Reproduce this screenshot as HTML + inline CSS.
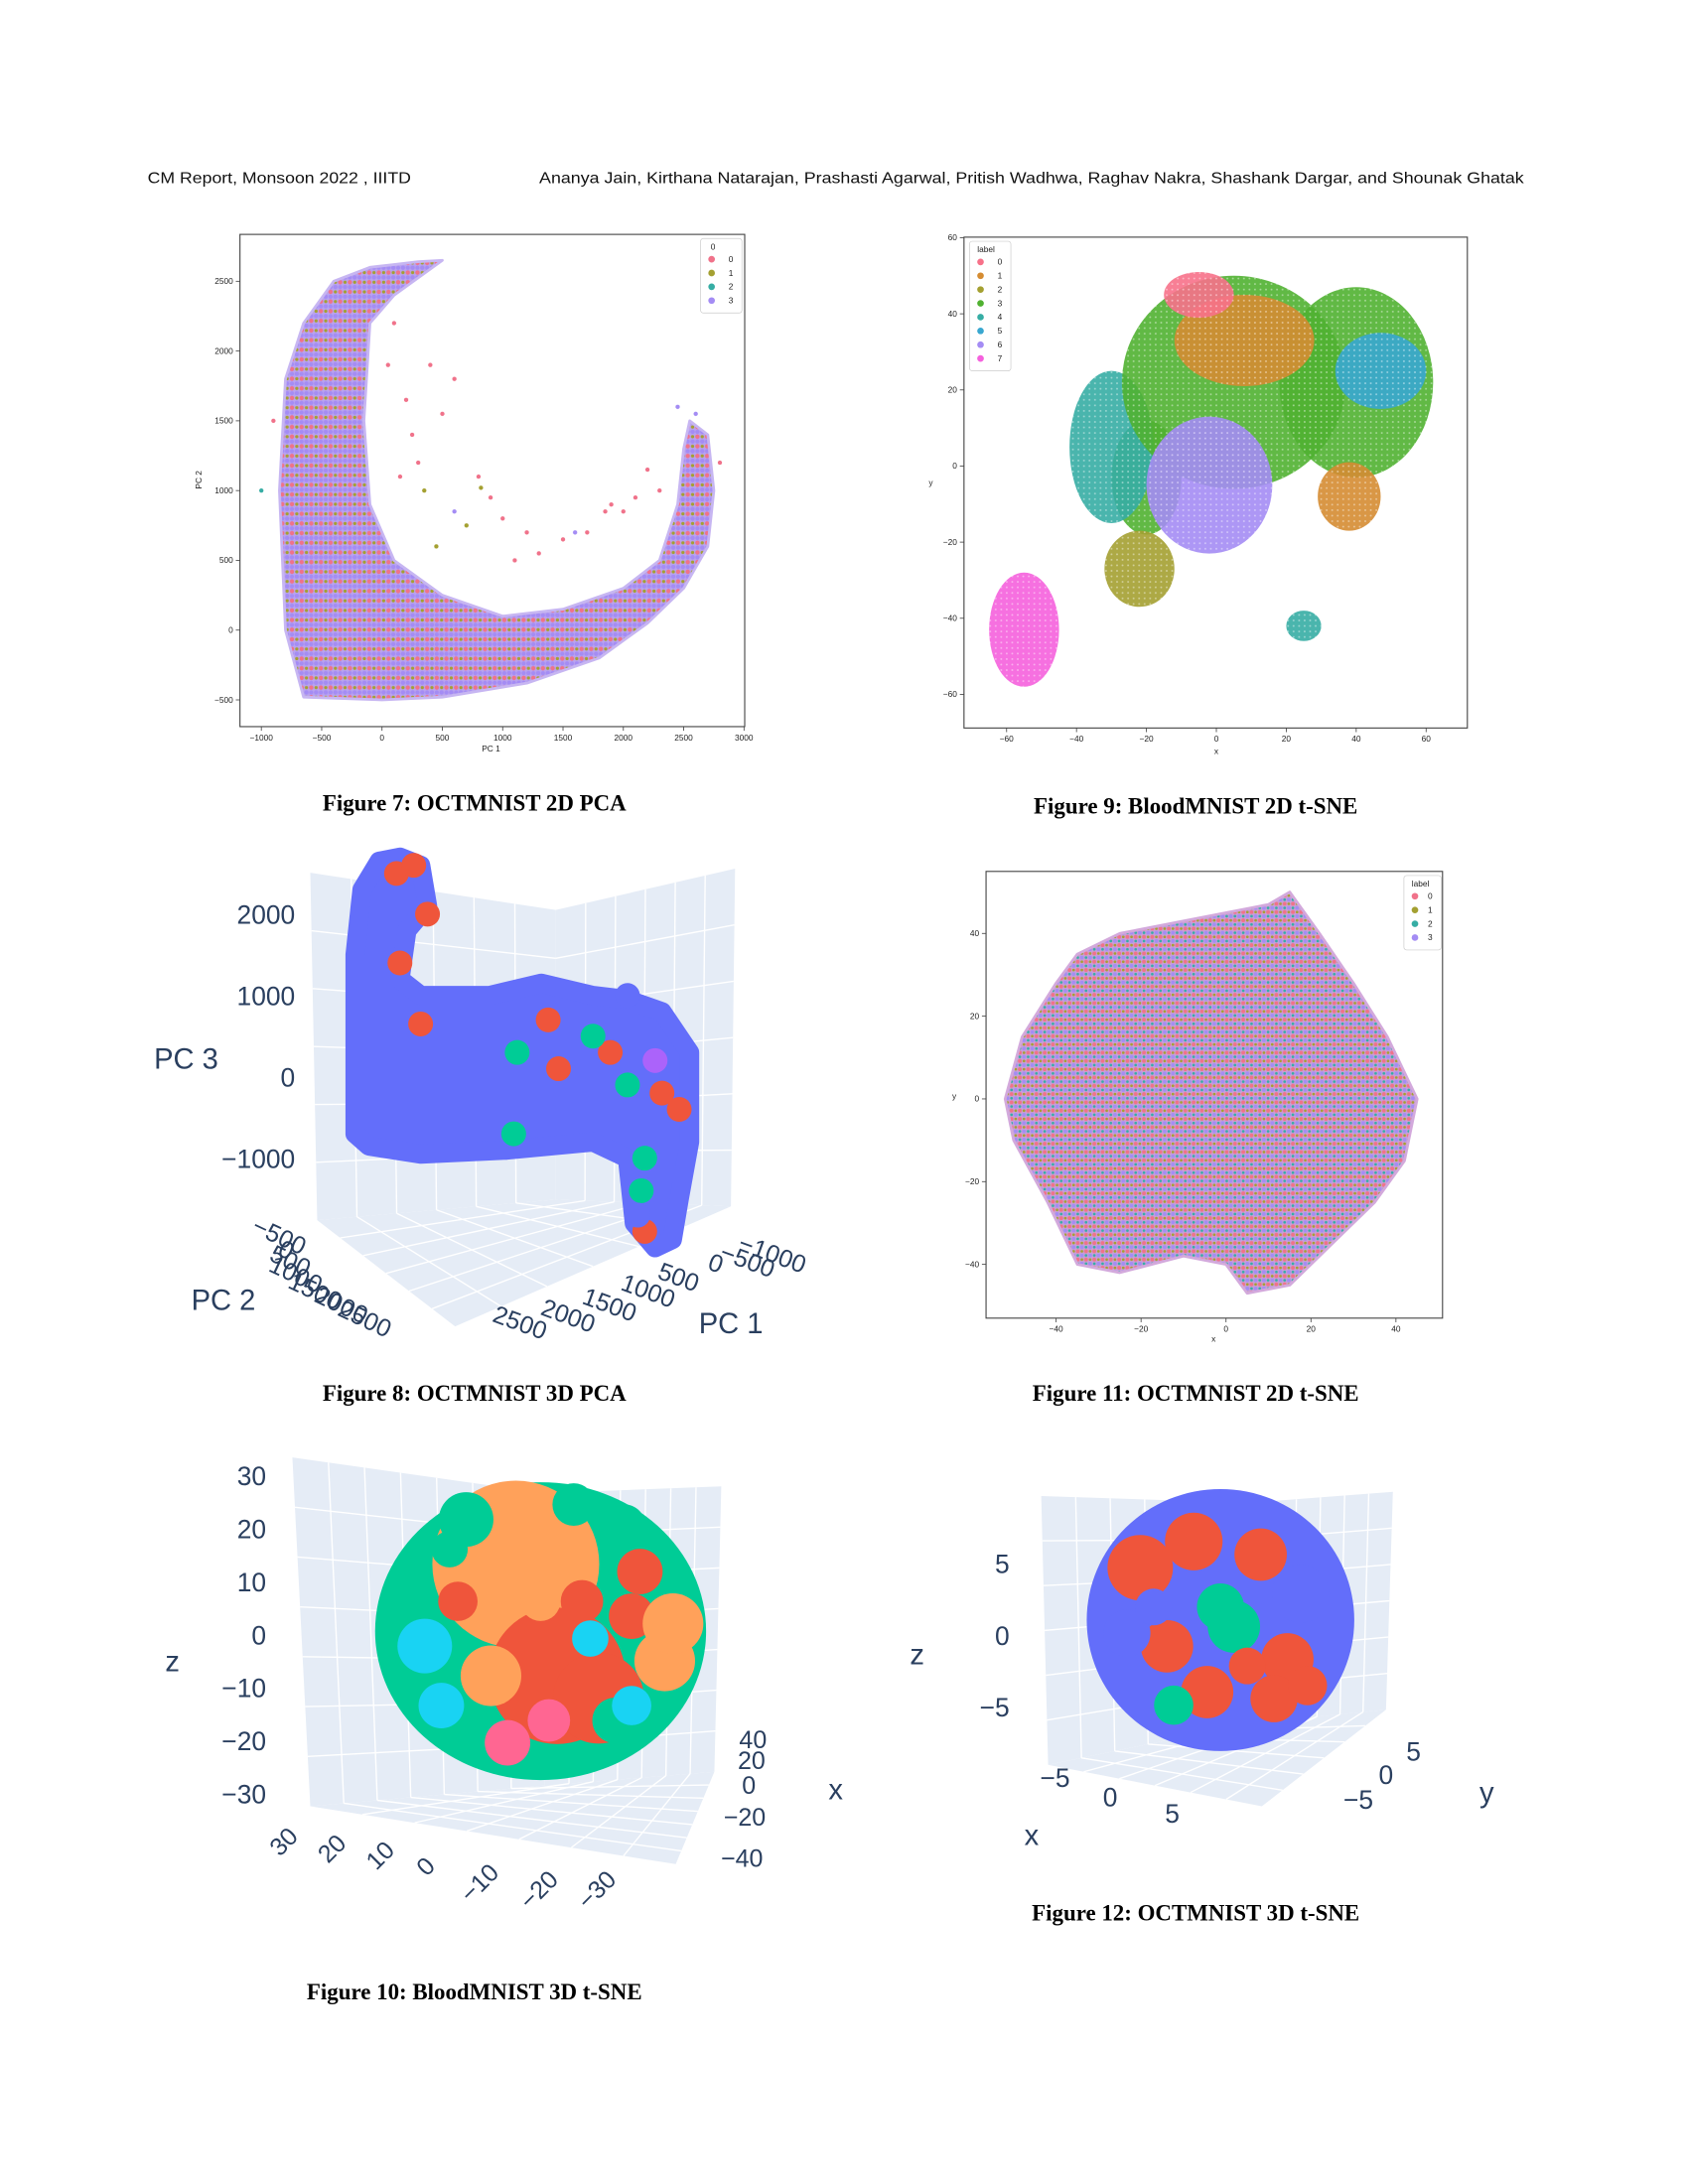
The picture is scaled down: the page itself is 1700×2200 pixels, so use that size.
<!DOCTYPE html>
<html><head><meta charset="utf-8"><style>
html,body{margin:0;padding:0;background:#fff;}
#page{position:relative;width:1700px;height:2200px;overflow:hidden;}
svg{position:absolute;left:0;top:0;}
</style></head><body>
<div id="page">
<svg id="s" width="1700" height="2200" viewBox="0 0 1700 2200" xmlns="http://www.w3.org/2000/svg">
<defs>
<pattern id="p7" width="7" height="7" patternUnits="userSpaceOnUse">
<rect width="7" height="7" fill="#b9a3ef"/><circle cx="1.7" cy="1.7" r="1.6" fill="#f0728a"/><circle cx="5.2" cy="5.2" r="1.6" fill="#a48cf4"/><circle cx="5.2" cy="1.7" r="1.2" fill="#a4a031"/><circle cx="1.7" cy="5.2" r="1.5" fill="#a48cf4"/></pattern>
<pattern id="p11" width="6" height="6" patternUnits="userSpaceOnUse">
<rect width="6" height="6" fill="#c9a0d8"/><circle cx="1.5" cy="1.5" r="1.4" fill="#f0728a"/><circle cx="4.5" cy="4.5" r="1.4" fill="#a48cf4"/><circle cx="4.5" cy="1.5" r="1" fill="#a4a031"/><circle cx="1.5" cy="4.5" r="1" fill="#36ada4"/></pattern>
<pattern id="tex" width="4" height="4" patternUnits="userSpaceOnUse"><circle cx="2" cy="2" r="0.7" fill="#ffffff" fill-opacity="0.45"/></pattern>
</defs>
<g id="root" transform="scale(1.3889)"></g>
</svg>
</div>
<script>
// ---------- Figure 7 data (OCTMNIST 2D PCA) ----------
const f7BandX=[-650,-800,-850,-800,-650,-400,-100,100,300,500,100,-100,-150,-100,100,500,1000,1500,2000,2300,2450,2500,2550,2700,2750,2700,2500,2200,1800,1200,500,0];
const f7BandY=[-480,0,1000,1800,2200,2500,2600,2620,2640,2650,2400,2200,1500,900,500,250,100,150,300,500,900,1300,1500,1400,1000,600,300,50,-200,-380,-480,-500];
const f7PtX=[600,500,800,900,1200,1500,1700,1900,2100,300,400,200,700,1000,1300,1600,2200,2300,250,100,50,600,-1000,-900,2800,2450,2600,1850,2000,350,450,150,820,1100];
const f7PtY=[1800,1550,1100,950,700,650,700,900,950,1200,1900,1650,750,800,550,700,1150,1000,1400,2200,1900,850,1000,1500,1200,1600,1550,850,850,1000,600,1100,1020,500];
const f7PtL=[0,0,0,0,0,0,0,0,0,0,0,0,1,0,0,3,0,0,0,0,0,3,2,0,0,3,3,0,0,1,1,0,1,0];
const f7XTicks=[-1000,-500,0,500,1000,1500,2000,2500,3000];
const f7YTicks=[-500,0,500,1000,1500,2000,2500];
const f7Labels=["0","1","2","3"];
// ---------- Figure 9 data (BloodMNIST 2D t-SNE) ----------
const f9Label=[3,4,3,3,5,1,0,6,1,2,7,4];
const f9Cx=[-20,-30,5,40,47,8,-5,-2,38,-22,-55,25];
const f9Cy=[-3,5,22,22,25,33,45,-5,-8,-27,-43,-42];
const f9Rx=[10,12,32,22,13,20,10,18,9,10,10,5];
const f9Ry=[15,20,28,25,10,12,6,18,9,10,15,4];
const f9XTicks=[-60,-40,-20,0,20,40,60];
const f9YTicks=[-60,-40,-20,0,20,40,60];
const f9Labels=["0","1","2","3","4","5","6","7"];
// ---------- Figure 11 data (OCTMNIST 2D t-SNE) ----------
const f11X=[-52,-48,-40,-35,-25,-10,10,15,22,30,38,45,42,35,25,15,5,0,-10,-25,-35,-42,-50];
const f11Y=[0,15,28,35,40,43,47,50,40,28,15,0,-15,-25,-35,-45,-47,-40,-38,-42,-40,-25,-10];
const f11XTicks=[-40,-20,0,20,40];
const f11YTicks=[-40,-20,0,20,40];
const f11Labels=["0","1","2","3"];
// ---------- Figure 8 data (OCTMNIST 3D PCA) ----------
const f8BlobU=[1,1,3,8,14,20,22,16,14,20,40,55,70,80,90,98,98,95,93,88,82,80,70,45,20,5];
const f8BlobZ=[-700,1500,2300,2650,2700,2600,2100,1800,1200,1000,1000,1150,1000,950,800,300,-800,-1500,-2000,-2100,-1800,-1000,-800,-900,-950,-850];
const f8MarkU=[22,13,18,14,20,57,75,90,85,95,60,48,70,47,80,85,84,80,83,88];
const f8MarkZ=[2000,2500,2600,1400,650,700,300,-200,-1900,-400,100,300,500,-700,-100,-1000,-1400,1000,-1700,200];
const f8MarkL=[1,1,1,1,1,1,1,1,1,1,1,2,2,2,2,2,2,0,0,3];
const f8ZTicks=[2000,1000,0,-1000];
// ---------- Figure 10 data (BloodMNIST 3D t-SNE) ----------
const f10A=[-0.15,0.1,0.35,-0.7,0.75,-0.45,0.5,-0.6,0.45,-0.2,0.55,-0.5,0.25,0.8,0.05,0.0,-0.3,0.55,0.3,-0.55,0.2,0.6];
const f10B=[-0.45,0.3,0.45,0.1,0.2,-0.75,-0.7,0.5,0.6,0.75,-0.1,-0.2,-0.2,-0.05,0.6,-0.2,0.3,0.5,0.05,-0.55,-0.85,-0.4];
const f10R=[0.55,0.45,0.3,0.18,0.2,0.18,0.15,0.15,0.15,0.15,0.15,0.13,0.14,0.2,0.14,0.13,0.2,0.13,0.12,0.12,0.14,0.15];
const f10L=[1,0,0,4,1,2,2,4,2,5,0,0,0,1,5,1,1,4,4,2,2,0];
const f10ZTicks=[30,20,10,0,-10,-20,-30];
// ---------- Figure 12 data (OCTMNIST 3D t-SNE) ----------
const f12A=[-0.6,-0.2,0.3,0.6,-0.4,0.1,0.5,-0.7,-0.1,0.4,-0.35,0.0,0.65,-0.5,0.2];
const f12B=[-0.4,-0.6,-0.5,-0.2,0.2,0.05,0.3,0.1,0.55,0.6,0.65,-0.1,0.5,-0.1,0.35];
const f12R=[0.25,0.22,0.2,0.22,0.2,0.2,0.2,0.18,0.2,0.18,0.15,0.18,0.15,0.14,0.14];
const f12L=[1,1,1,0,1,2,1,0,1,1,2,2,1,0,1];
const f12ZTicks=[5,0,-5];

const NS="http://www.w3.org/2000/svg";
const root=document.getElementById('root');
function mk(tag,attrs,parent,name,inter){const e=document.createElementNS(NS,tag);for(const k in attrs)e.setAttribute(k,attrs[k]);(parent||root).appendChild(e);


return e;}
function txt(x,y,s,size,parent,name,opts){opts=opts||{};const t=mk('text',Object.assign({x:x,y:y,'font-size':size,'font-family':opts.ff||'"Liberation Sans", sans-serif',fill:opts.fill||'#222','text-anchor':opts.anchor||'middle'},opts.extra||{}),parent,name,false);t.textContent=s;return t;}
const SNS=['#f77189','#d58c32','#a4a031','#50b131','#36ada4','#39a7d0','#a48cf4','#f561dd'];
const C4=['#f0728a','#a4a031','#36ada4','#a48cf4'];
const PLY=['#636efa','#ef553b','#00cc96','#ab63fa','#19d3f3','#ff6692','#ffa15a'];

// header
txt(107,133,'CM Report, Monsoon 2022 , IIITD',11.5,root,'header-left',{anchor:'start',fill:'#111',extra:{textLength:191,lengthAdjust:'spacingAndGlyphs'}});
txt(391,133,'Ananya Jain, Kirthana Natarajan, Prashasti Agarwal, Pritish Wadhwa, Raghav Nakra, Shashank Dargar, and Shounak Ghatak',11.5,root,'header-authors',{anchor:'start',fill:'#111',extra:{textLength:714,lengthAdjust:'spacingAndGlyphs'}});

function caption(cx,y,s,name){txt(cx,y,s,16.5,root,name,{ff:'"Liberation Serif", serif',fill:'#000',extra:{'font-weight':'bold'}});}

function axesBox(g,x0,y0,x1,y1,name){mk('rect',{x:x0,y:y0,width:x1-x0,height:y1-y0,fill:'#fff',stroke:'#444','stroke-width':0.8},g,name,false);}
function legend(g,x,y,w,title,labels,colors,name){const lg=mk('g',{},g,name,false);const h=14+labels.length*10;
mk('rect',{x:x,y:y,width:w,height:h,fill:'#fff',stroke:'#ccc','stroke-width':0.5,rx:2},lg,'legend-box',false);
txt(x+(title==='0'?9:12),y+8,title,6,lg,'legend-title',{anchor:'middle'});
labels.forEach((l,i)=>{const gy=y+17+i*10;mk('circle',{cx:x+8,cy:gy-2,r:2.4,fill:colors[i]},lg,'legend-marker-'+l,false);txt(x+w-8,gy,l,6,lg,'legend-label-'+l,{anchor:'middle'});});}

// ===== Figure 7 =====
(function(){const g=mk('g',{},root,'figure-7-pca-2d',false);
const X=v=>277+v*0.0875, Y=v=>457-v*0.1012;
axesBox(g,174,170,540,527,'plot-area');
mk('polygon',{points:f7BandX.map((v,i)=>X(v)+','+Y(f7BandY[i])).join(' '),fill:'url(#p7)',stroke:'#c7b6f2','stroke-width':2,'stroke-linejoin':'round'},g,'point-cloud-band',false);
f7PtX.forEach((v,i)=>{mk('circle',{cx:X(v),cy:Y(f7PtY[i]),r:1.7,fill:C4[f7PtL[i]],stroke:'#fff','stroke-width':0.3},g,'scatter-point',false);});
f7XTicks.forEach(t=>{mk('line',{x1:X(t),x2:X(t),y1:527,y2:530,stroke:'#444','stroke-width':0.6},g,'x-tick',false);txt(X(t),537,t<0?'\u2212'+(-t):String(t),6,g,'x-tick-label');});
f7YTicks.forEach(t=>{mk('line',{x1:171,x2:174,y1:Y(t),y2:Y(t),stroke:'#444','stroke-width':0.6},g,'y-tick',false);txt(169,Y(t)+2,t<0?'\u2212'+(-t):String(t),6,g,'y-tick-label',{anchor:'end'});});
txt(356,545,'PC 1',6,g,'x-axis-title');
txt(146,348,'PC 2',6,g,'y-axis-title',{extra:{transform:'rotate(-90 146 348)'}});
legend(g,508,173,30,'0',f7Labels,C4,'legend');
})();
caption(344,588,'Figure 7: OCTMNIST 2D PCA','figure-7-caption');

// ===== Figure 9 =====
(function(){const g=mk('g',{},root,'figure-9-tsne-2d',false);
const X=v=>882+v*2.535, Y=v=>338-v*2.76;
axesBox(g,699,172,1064,528,'plot-area');
f9Cx.forEach((cx,i)=>{const c=SNS[f9Label[i]];
mk('ellipse',{cx:X(cx),cy:Y(f9Cy[i]),rx:f9Rx[i]*2.535,ry:f9Ry[i]*2.76,fill:c,'fill-opacity':0.9},g,'cluster-'+f9Label[i],false);
mk('ellipse',{cx:X(cx),cy:Y(f9Cy[i]),rx:f9Rx[i]*2.535,ry:f9Ry[i]*2.76,fill:'url(#tex)'},g,'cluster-texture',false);});
f9XTicks.forEach(t=>{mk('line',{x1:X(t),x2:X(t),y1:528,y2:531,stroke:'#444','stroke-width':0.6},g,'x-tick',false);txt(X(t),538,t<0?'\u2212'+(-t):String(t),6,g,'x-tick-label');});
f9YTicks.forEach(t=>{mk('line',{x1:696,x2:699,y1:Y(t),y2:Y(t),stroke:'#444','stroke-width':0.6},g,'y-tick',false);txt(694,Y(t)+2,t<0?'\u2212'+(-t):String(t),6,g,'y-tick-label',{anchor:'end'});});
txt(882,547,'x',6,g,'x-axis-title');txt(675,352,'y',6,g,'y-axis-title');
legend(g,703,175,30,'label',f9Labels,SNS,'legend');
})();
caption(867,590,'Figure 9: BloodMNIST 2D t-SNE','figure-9-caption');

// ===== Figure 11 =====
(function(){const g=mk('g',{},root,'figure-11-tsne-2d',false);
const X=v=>889+v*3.08, Y=v=>797-v*3.0;
axesBox(g,715,632,1046,956,'plot-area');
mk('polygon',{points:f11X.map((v,i)=>X(v)+','+Y(f11Y[i])).join(' '),fill:'url(#p11)',stroke:'#d3a9dc','stroke-width':2,'stroke-linejoin':'round'},g,'point-cloud',false);
f11XTicks.forEach(t=>{mk('line',{x1:X(t),x2:X(t),y1:956,y2:959,stroke:'#444','stroke-width':0.6},g,'x-tick',false);txt(X(t),966,t<0?'\u2212'+(-t):String(t),6,g,'x-tick-label');});
f11YTicks.forEach(t=>{mk('line',{x1:712,x2:715,y1:Y(t),y2:Y(t),stroke:'#444','stroke-width':0.6},g,'y-tick',false);txt(710,Y(t)+2,t<0?'\u2212'+(-t):String(t),6,g,'y-tick-label',{anchor:'end'});});
txt(880,973,'x',6,g,'x-axis-title');txt(692,797,'y',6,g,'y-axis-title');
legend(g,1018,635,27,'label',f11Labels,C4,'legend');
})();
caption(867,1016,'Figure 11: OCTMNIST 2D t-SNE','figure-11-caption');

// 3D helpers
function wall(g,pts,name){mk('polygon',{points:pts.map(p=>p.join(',')).join(' '),fill:'#e5ecf6'},g,name,false);}
function gl(g,a,b){mk('line',{x1:a[0],y1:a[1],x2:b[0],y2:b[1],stroke:'#fff','stroke-width':1},g,'grid-line',false);}
function lerp(a,b,t){return [a[0]+(b[0]-a[0])*t,a[1]+(b[1]-a[1])*t];}
function walls(g,L,C,R,BL,BC,BR,F,n){
wall(g,[L,C,BC,BL],'left-wall');wall(g,[C,R,BR,BC],'right-wall');wall(g,[BL,BC,BR,F],'floor');
for(let i=1;i<n;i++){const t=i/n;gl(g,lerp(L,C,t),lerp(BL,BC,t));gl(g,lerp(C,R,t),lerp(BC,BR,t));gl(g,lerp(L,BL,t),lerp(C,BC,t));gl(g,lerp(C,BC,t),lerp(R,BR,t));gl(g,lerp(BL,BC,t),lerp(F,BR,t));gl(g,lerp(BC,BR,t),lerp(BL,F,t));}}
const AX='#2a3f5f';

// ===== Figure 8 =====
(function(){const g=mk('g',{},root,'figure-8-pca-3d',false);
walls(g,[225,633],[403,660],[533,630],[230,885],[403,870],[530,875],[330,962],6);
const U=u=>255+u*2.5, Z=z=>781-z*0.059;
mk('polygon',{points:f8BlobU.map((u,i)=>U(u)+','+Z(f8BlobZ[i])).join(' '),fill:PLY[0],stroke:PLY[0],'stroke-width':14,'stroke-linejoin':'round'},g,'point-cloud-blob',false);
f8MarkU.forEach((u,i)=>{mk('circle',{cx:U(u),cy:Z(f8MarkZ[i]),r:9,fill:PLY[f8MarkL[i]]},g,'marker-class-'+f8MarkL[i],false);});
f8ZTicks.forEach(t=>txt(214,Z(t)+7,t<0?'\u2212'+(-t):String(t),19,g,'z-tick-label',{anchor:'end',fill:AX}));
txt(135,775,'PC 3',21,g,'z-axis-title',{fill:AX});
txt(162,950,'PC 2',21,g,'y-axis-title',{fill:AX});
txt(530,967,'PC 1',21,g,'x-axis-title',{fill:AX});
[['\u2212500',200,902],['0',205,912],['500',208,920],['1000',212,930],['1500',226,942],['2000',245,952],['2500',262,962]].forEach(a=>txt(a[1],a[2],a[0],18,g,'y-tick-label',{fill:AX,extra:{transform:'rotate(25 '+a[1]+' '+a[2]+')'}}));
[['\u22121000',558,915],['\u2212500',540,920],['0',517,922],['500',490,932],['1000',468,942],['1500',440,952],['2000',410,960],['2500',375,965]].forEach(a=>txt(a[1],a[2],a[0],18,g,'x-tick-label',{fill:AX,extra:{transform:'rotate(20 '+a[1]+' '+a[2]+')'}}));
})();
caption(344,1016,'Figure 8: OCTMNIST 3D PCA','figure-8-caption');

// ===== Figure 10 =====
(function(){const g=mk('g',{},root,'figure-10-tsne-3d',false);
walls(g,[212,1057],[395,1083],[523,1078],[225,1310],[395,1295],[518,1285],[490,1352],7);
const A=a=>392+a*120, B=b=>1183+b*108;
mk('ellipse',{cx:A(0),cy:B(0),rx:120,ry:108,fill:PLY[2]},g,'point-cloud-ball',false);
const map=[1,6,2,3,4,5];
f10A.forEach((a,i)=>{mk('circle',{cx:A(a),cy:B(f10B[i]),r:f10R[i]*110,fill:PLY[map[f10L[i]]]},g,'marker-class-'+f10L[i],false);});
f10ZTicks.forEach((t,i)=>txt(193,1077+i*38.5,t<0?'\u2212'+(-t):String(t),19,g,'z-tick-label',{anchor:'end',fill:AX}));
txt(125,1212,'z',21,g,'z-axis-title',{fill:AX});
[['30',210,1340],['20',245,1345],['10',280,1350],['0',313,1358],['\u221210',352,1370],['\u221220',395,1375],['\u221230',437,1375]].forEach(a=>txt(a[1],a[2],a[0],18,g,'y-tick-label',{fill:AX,extra:{transform:'rotate(-45 '+a[1]+' '+a[2]+')'}}));
[['40',546,1268],['20',545,1283],['0',543,1301],['\u221220',540,1324],['\u221240',538,1354]].forEach(a=>txt(a[1],a[2],a[0],18,g,'x-tick-label',{fill:AX}));
txt(606,1305,'x',21,g,'x-axis-title',{fill:AX});
})();
caption(344,1450,'Figure 10: BloodMNIST 3D t-SNE','figure-10-caption');

// ===== Figure 12 =====
(function(){const g=mk('g',{},root,'figure-12-tsne-3d',false);
walls(g,[755,1085],[905,1090],[1010,1082],[760,1280],[905,1250],[1005,1240],[915,1310],6);
const A=a=>885+a*97, B=b=>1175+b*95;
mk('ellipse',{cx:A(0),cy:B(0),rx:97,ry:95,fill:PLY[0]},g,'point-cloud-ball',false);
f12A.forEach((a,i)=>{mk('circle',{cx:A(a),cy:B(f12B[i]),r:f12R[i]*95,fill:PLY[f12L[i]]},g,'marker-class-'+f12L[i],false);});
f12ZTicks.forEach((t,i)=>txt(732,1141+i*52,t<0?'\u2212'+(-t):String(t),19,g,'z-tick-label',{anchor:'end',fill:AX}));
txt(665,1207,'z',21,g,'z-axis-title',{fill:AX});
[['\u22125',765,1296],['0',805,1310],['5',850,1322]].forEach(a=>txt(a[1],a[2],a[0],19,g,'x-tick-label',{fill:AX}));
txt(748,1338,'x',21,g,'x-axis-title',{fill:AX});
[['\u22125',985,1312],['0',1005,1294],['5',1025,1277]].forEach(a=>txt(a[1],a[2],a[0],19,g,'y-tick-label',{fill:AX}));
txt(1078,1307,'y',21,g,'y-axis-title',{fill:AX});
})();
caption(867,1393,'Figure 12: OCTMNIST 3D t-SNE','figure-12-caption');
</script>
</body></html>
